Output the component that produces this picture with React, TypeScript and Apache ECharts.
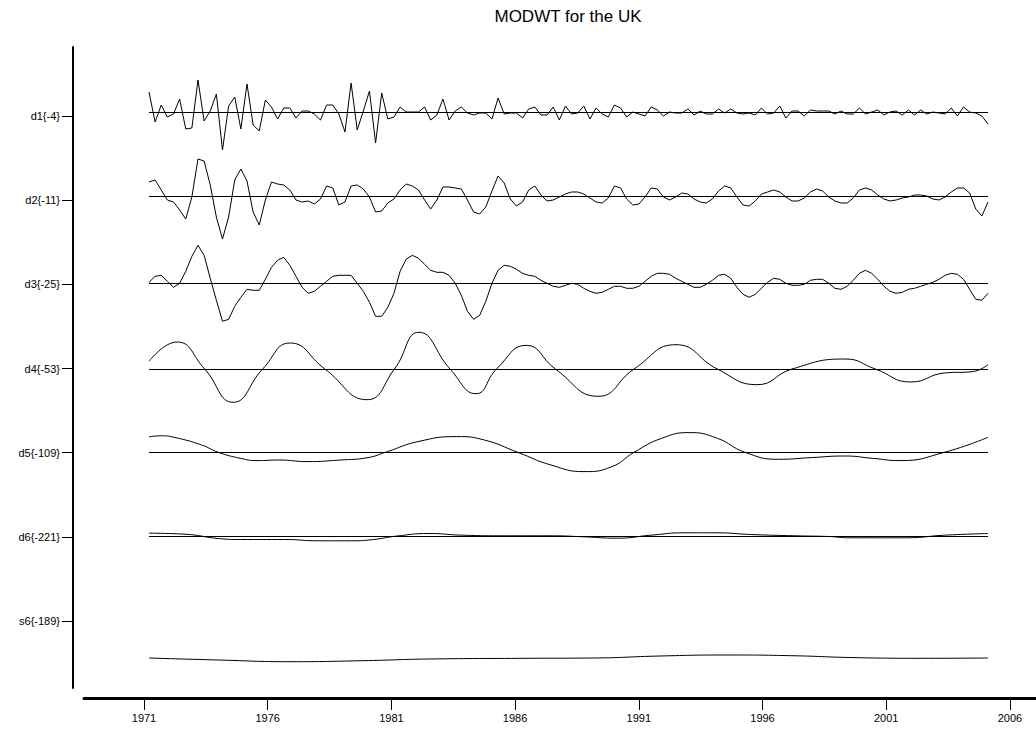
import React, { useEffect, useRef } from "react";
import * as echarts from "echarts";

const chartTitle = "MODWT for the UK";
const rowLabels = ["d1{-4}", "d2{-11}", "d3{-25}", "d4{-53}", "d5{-109}", "d6{-221}", "s6{-189}"];
const tickYears = [1971, 1976, 1981, 1986, 1991, 1996, 2001, 2006];

const quarterStart = 1971.2;
const quarterStep = 0.25;

const d1 = [
  2.0, -1.0, 0.7, -0.5, -0.2, 1.3, -1.7, -1.6, 3.2, -0.9,
  0.1, 1.8, -3.8, 0.6, 1.5, -1.7, 2.8, -1.3, -1.9, 1.2,
  0.5, -0.7, 0.4, 0.4, -0.6, 0.1, 0.1, -0.2, -0.8, 0.7,
  0.7, -0.2, -2.0, 2.9, -1.8, 0.1, 2.1, -3.1, 1.9, -0.7,
  -0.5, 0.5, 0.0, 0.0, 0.0, 0.5, -0.8, -0.3, 1.3, -0.8,
  0.1, 0.5, -0.1, -0.3, -0.1, -0.1, -0.7, 1.4, -0.2, -0.1,
  -0.1, -0.6, 0.3, 0.5, -0.3, -0.3, 0.5, -0.8, 0.6, -0.2,
  -0.1, 0.6, -0.7, 0.4, -0.2, -0.5, 0.7, 0.4, -0.5, 0.0,
  -0.2, -0.4, 0.5, 0.2, -0.4, 0.0, -0.1, -0.1, 0.3, -0.3,
  0.1, -0.2, -0.2, 0.3, -0.1, 0.3, -0.1, -0.2, -0.1, -0.3,
  0.4, -0.2, -0.1, 0.6, -0.6, 0.1, 0.1, -0.4, 0.2, 0.1,
  0.1, 0.1, -0.2, 0.1, -0.2, -0.2, 0.4, -0.2, 0.0, 0.2,
  -0.3, 0.0, 0.1, -0.3, 0.2, -0.3, 0.2, -0.2, 0.0, -0.1,
  -0.2, 0.4, -0.4, 0.5, 0.0, -0.1, -0.4, -1.2,
];

const d2 = [
  1.4, 1.6, 0.6, -0.4, -0.6, -1.4, -2.3, -0.1, 3.7, 3.5,
  1.1, -2.1, -4.3, -2.1, 1.6, 2.7, 1.5, -1.6, -2.9, -0.4,
  1.4, 1.2, 1.1, 0.6, -0.4, -0.6, -0.5, -0.8, -0.3, 1.0,
  0.8, -0.9, -0.6, 1.0, 1.1, 0.7, -0.1, -1.6, -1.5, -0.7,
  -0.3, 0.6, 1.2, 1.0, 0.6, -0.4, -1.3, -0.4, 0.9, 0.9,
  0.8, 0.7, -0.4, -1.6, -1.8, -1.1, 0.5, 2.0, 1.3, -0.3,
  -1.0, -0.6, 0.6, 1.0, 0.1, -0.5, -0.4, -0.1, 0.2, 0.4,
  0.4, 0.2, -0.2, -0.6, -0.7, -0.2, 1.0, 0.8, -0.3, -0.9,
  -0.8, -0.1, 0.8, 0.7, -0.1, -0.4, -0.1, 0.3, 0.2, -0.3,
  -0.6, -0.7, -0.3, 0.5, 1.0, 0.8, -0.1, -0.9, -1.0, -0.5,
  0.2, 0.4, 0.6, 0.4, -0.1, -0.5, -0.5, -0.2, 0.4, 0.7,
  0.5, -0.1, -0.5, -0.7, -0.7, -0.2, 0.6, 0.8, 0.6, 0.1,
  -0.3, -0.5, -0.4, -0.2, -0.1, 0.1, 0.1, 0.0, -0.3, -0.4,
  -0.1, 0.4, 0.8, 0.8, 0.3, -1.3, -2.0, -0.6,
];

const d3 = [
  0.1, 0.7, 0.8, 0.2, -0.4, 0.0, 1.2, 2.7, 3.8, 2.8,
  0.5, -1.7, -3.8, -3.6, -2.3, -1.4, -0.6, -0.7, -0.7, 0.4,
  1.6, 2.3, 2.6, 1.8, 0.7, -0.4, -1.0, -0.8, -0.3, 0.2,
  0.7, 0.8, 0.8, 0.8, 0.0, -0.8, -1.9, -3.3, -3.3, -2.4,
  -1.0, 1.2, 2.4, 2.8, 2.5, 1.9, 1.3, 1.1, 1.1, 0.8,
  0.0, -1.2, -2.8, -3.6, -3.2, -1.8, 0.0, 1.3, 1.8, 1.7,
  1.4, 1.0, 0.8, 0.7, 0.3, 0.0, -0.3, -0.4, -0.2, 0.0,
  -0.1, -0.5, -0.8, -1.0, -0.9, -0.6, -0.3, -0.3, -0.5, -0.5,
  -0.3, 0.2, 0.7, 1.0, 1.0, 0.9, 0.5, 0.2, -0.1, -0.4,
  -0.4, -0.1, 0.3, 0.8, 0.9, 0.5, -0.4, -1.1, -1.4, -1.1,
  -0.5, 0.1, 0.5, 0.4, 0.0, -0.2, -0.2, -0.1, 0.3, 0.4,
  0.4, 0.0, -0.5, -0.6, -0.3, 0.3, 1.0, 1.3, 1.0, 0.4,
  -0.3, -0.8, -1.0, -0.9, -0.6, -0.5, -0.3, -0.1, 0.1, 0.4,
  0.8, 1.0, 0.9, 0.4, -0.6, -1.6, -1.7, -1.0,
];

const d4Years = [
  1971.2, 1972.34, 1973.47, 1974.63, 1975.84, 1976.96, 1978.38, 1980.1, 1981.22,
  1982.22, 1983.49, 1984.55, 1985.39, 1986.6, 1987.79, 1989.53, 1991.0, 1992.71,
  1994.4, 1996.02, 1997.45, 1999.61, 2000.85, 2002.3, 2003.67, 2004.8, 2005.45,
];
const d4Values = [
  0.77, 2.7, 0, -3.33, 0, 2.6, 0, -3.07, 0,
  3.67, 0, -2.47, 0, 2.37, 0, -2.73, 0, 2.43,
  0, -1.57, 0, 1.0, 0, -1.3, -0.4, -0.27, 0.43,
];

const d5Years = [
  1971.2, 1971.7, 1972.22, 1973.35, 1974.03, 1974.93, 1975.61, 1976.52, 1977.65, 1979.01, 1980.14,
  1980.93, 1982.18, 1983.76, 1984.89, 1986.25, 1987.61, 1988.96, 1990.1, 1991.0, 1992.13,
  1993.26, 1994.4, 1995.53, 1996.89, 1998.24, 1999.6, 2000.73, 2001.86, 2003.67, 2005.45,
];
const d5Values = [
  1.55, 1.65, 1.5, 0.73, 0.0, -0.6, -0.83, -0.77, -0.93, -0.77, -0.53,
  0.07, 1.07, 1.57, 1.23, 0, -1.27, -1.93, -1.43, 0, 1.4,
  1.97, 1.4, 0, -0.7, -0.53, -0.37, -0.6, -0.83, 0, 1.5,
];

const d6Years = [
  1971.2, 1972.67, 1974.03, 1974.93, 1976.74, 1978.1, 1979.46, 1980.37, 1981.27, 1982.63,
  1983.99, 1985.8, 1987.61, 1988.96, 1990.32, 1991.68, 1993.04, 1994.4, 1995.76, 1997.57,
  1998.92, 1999.83, 2002.09, 2003.67, 2005.45,
];
const d6Values = [
  0.33, 0.23, -0.2, -0.3, -0.3, -0.43, -0.43, -0.3, 0.03, 0.3,
  0.13, 0.07, 0.07, -0.03, -0.17, 0.13, 0.37, 0.37, 0.2, 0.07,
  0, -0.13, -0.13, 0.13, 0.3,
];

const s6Years = [
  1971.2, 1974.02, 1976.96, 1979.93, 1982.63, 1986.67, 1989.36, 1992.06, 1994.75, 1997.44,
  2000.14, 2002.83, 2005.45,
];
const s6Values = [
  -3.7, -3.9, -4.07, -3.97, -3.8, -3.73, -3.7, -3.5, -3.4, -3.47,
  -3.67, -3.73, -3.7,
];

// layout (pixels)
const rowCenters = [112, 196, 283.3, 369, 452.3, 536.5, 621];
const rowHalf = 50;
const plotLeft = 149;
const plotRight = 48;
const labelTop = 47;
const labelBottom = 41;
const FONT = "Liberation Sans, Arial, Helvetica, sans-serif";

function quarterly(vals: number[]) {
  return vals.map((v, i) => [quarterStart + i * quarterStep, v]);
}
function pairs(xs: number[], ys: number[]) {
  return xs.map((x, i) => [x, ys[i]]);
}

export default function App() {
  const ref = useRef<HTMLDivElement>(null);

  useEffect(() => {
    if (!ref.current) return;
    const chart = echarts.init(ref.current, undefined, { renderer: "svg" });

    const seriesData = [
      { data: quarterly(d1), smooth: false, base: true },
      { data: quarterly(d2), smooth: false, base: true },
      { data: quarterly(d3), smooth: false, base: true },
      { data: pairs(d4Years, d4Values), smooth: 0.5, base: true },
      { data: pairs(d5Years, d5Values), smooth: 0.5, base: true },
      { data: pairs(d6Years, d6Values), smooth: 0.5, base: true },
      { data: pairs(s6Years, s6Values), smooth: 0.5, base: false },
    ];
    const xMax = quarterStart + (d1.length - 1) * quarterStep;

    const grids: any[] = [];
    const xAxes: any[] = [];
    const yAxes: any[] = [];
    const series: any[] = [];

    seriesData.forEach((s, k) => {
      grids.push({
        left: plotLeft,
        right: plotRight,
        top: rowCenters[k] - rowHalf,
        height: rowHalf * 2,
        containLabel: false,
      });
      xAxes.push({
        type: "value",
        gridIndex: k,
        min: quarterStart,
        max: xMax,
        show: false,
      });
      yAxes.push({
        type: "value",
        gridIndex: k,
        min: -5,
        max: 5,
        show: false,
      });
      series.push({
        type: "line",
        name: rowLabels[k],
        xAxisIndex: k,
        yAxisIndex: k,
        data: s.data,
        smooth: s.smooth,
        symbol: "none",
        silent: true,
        clip: false,
        lineStyle: { color: "#000", width: 1 },
        markLine: s.base
          ? {
              silent: true,
              symbol: ["none", "none"],
              label: { show: false },
              lineStyle: { color: "#000", width: 1, type: "solid" },
              data: [{ yAxis: 0 }],
            }
          : undefined,
      });
    });

    // left label axis
    const labelGrid = grids.length;
    const spacing = 84.17;
    const firstTickOffset = rowCenters[0] + 4 - labelTop; // 116 - 47
    const labelMin = -firstTickOffset / spacing;
    const labelMax = (729 - labelBottom - labelTop - firstTickOffset) / spacing;
    const labelIdx = rowLabels.map((_, i) => i);
    grids.push({ left: 73, top: labelTop, width: 1, bottom: labelBottom });
    xAxes.push({ type: "value", gridIndex: labelGrid, min: 0, max: 1, show: false });
    yAxes.push({
      type: "value",
      gridIndex: labelGrid,
      inverse: true,
      min: labelMin,
      max: labelMax,
      axisLine: { show: true, lineStyle: { color: "#000", width: 2 } },
      axisTick: { show: true, length: 11, customValues: labelIdx, lineStyle: { color: "#000", width: 1 } },
      axisLabel: {
        show: true,
        customValues: labelIdx,
        formatter: (v: number) => rowLabels[Math.round(v)] ?? "",
        fontSize: 11,
        fontFamily: FONT,
        color: "#000",
        margin: 13,
      },
      splitLine: { show: false },
    });

    // bottom time axis
    const axisGrid = grids.length;
    const pxPerYear = 24.74;
    const axisLeft = 84;
    const firstTickPx = 144;
    const axisMin = tickYears[0] - (firstTickPx - axisLeft) / pxPerYear;
    const axisMax = axisMin + (1036 - axisLeft) / pxPerYear;
    grids.push({ left: axisLeft, right: 0, top: labelTop, bottom: 31 });
    yAxes.push({ type: "value", gridIndex: axisGrid, show: false, min: 0, max: 1 });
    xAxes.push({
      type: "value",
      gridIndex: axisGrid,
      min: axisMin,
      max: axisMax,
      axisLine: { show: true, lineStyle: { color: "#000", width: 3 } },
      axisTick: { show: true, length: 12, customValues: tickYears, lineStyle: { color: "#000", width: 1 } },
      axisLabel: {
        show: true,
        customValues: tickYears,
        formatter: (v: number) => String(Math.round(v)),
        fontSize: 11,
        fontFamily: FONT,
        color: "#000",
        margin: 14,
      },
      splitLine: { show: false },
    });

    chart.setOption({
      animation: false,
      backgroundColor: "#fff",
      title: {
        text: chartTitle,
        left: 563,
        top: 3,
        textAlign: "center",
        textStyle: { fontSize: 17, fontWeight: "normal", fontFamily: FONT, color: "#000" },
      },
      grid: grids,
      xAxis: xAxes,
      yAxis: yAxes,
      series,
    });

    return () => chart.dispose();
  }, []);

  return (
    <div
      ref={ref}
      style={{ position: "fixed", left: 0, top: 0, width: 1036, height: 729, background: "#fff" }}
    />
  );
}
